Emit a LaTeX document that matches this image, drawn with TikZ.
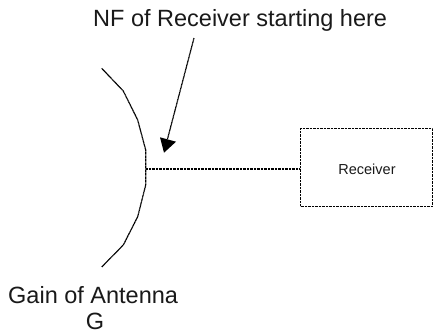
\documentclass[tikz,border=0pt]{standalone}
\usepackage{fontspec}
\setmainfont{Liberation Sans}
\begin{document}
\begin{tikzpicture}[x=1pt,y=-1pt,
  dotline/.style={draw=black,line width=1.2pt,dash pattern=on 1pt off 0.4pt},
  lab/.style={inner sep=0pt,font=\fontsize{23.5}{28}\selectfont,text=black!90,align=center}]
\useasboundingbox (0,0) rectangle (433,333);
\coordinate (dishTop) at (101.7,68.3);
\coordinate (dishBot) at (101.7,267);
\coordinate (feed) at (146,169);
\coordinate (arrowStart) at (194,38);
\coordinate (arrowTip) at (164,152.7);
\node[dotline,minimum width=132pt,minimum height=78pt,inner sep=0pt,anchor=south west] (rx) at (300,207) {};
\node[inner sep=0pt,font=\fontsize{14.5}{17}\selectfont,text=black!90] (rxl) at (367,169.5) {Receiver};
\draw[dotline] (dishTop) -- (123.3,91) -- (137.7,120) -- (145.7,150) -- (145.7,185) -- (137.7,216.7) -- (123.3,245) -- (dishBot);
\draw[dotline] (feed) -- (rx.west |- feed);
\draw[dotline] (arrowStart) -- (167.5,139);
\fill[black] (arrowTip) -- (160,137.3) -- (176,141.7) -- cycle;
\node[lab,anchor=base west] (nf) at (93,26.5) {NF of Receiver starting here};
\node[lab,anchor=base west] (gain) at (8,303) {Gain of Antenna};
\node[lab,anchor=base] (g) at (95,329.5) {G};
\end{tikzpicture}
\end{document}
